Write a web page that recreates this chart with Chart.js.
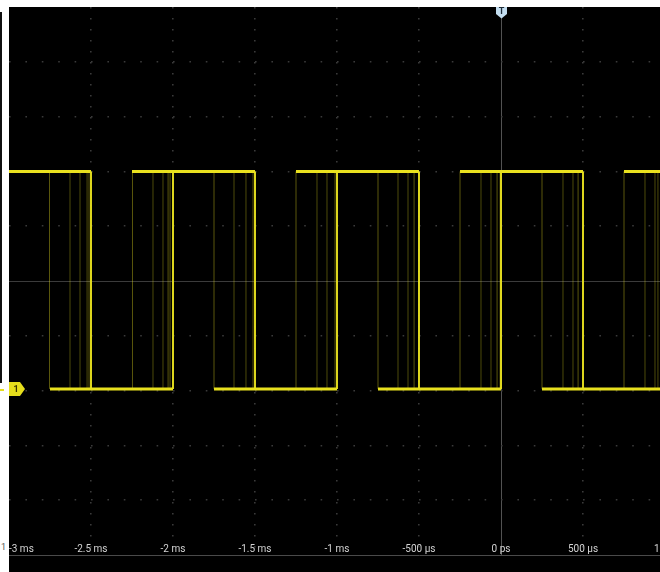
<!DOCTYPE html>
<html>
<head>
<meta charset="utf-8">
<title>Osciloscopio</title>
<script src="https://cdn.jsdelivr.net/npm/chart.js@4.4.1/dist/chart.umd.min.js"></script>
<style>
    html, body { margin: 0; padding: 0; background: #ffffff; overflow: hidden; width: 660px; height: 572px; }
    #pantalla { position: absolute; left: 9px; top: 7px; background: #000000; }
    #barra { position: absolute; left: 0; top: 12px; width: 2px; height: 371px; background: #111111; }
    #pico { position: absolute; left: 0; top: 389px; width: 4px; height: 2px; background: #e6de1c; }
    #resto { position: absolute; left: 1px; top: 542px; font: 9px Roboto, sans-serif; color: #555555; }
</style>
</head>
<body>
<div id="barra"></div>
<div id="pico"></div>
<div id="resto">1</div>
<canvas id="pantalla" width="820" height="565"></canvas>
<script>
// Eje de tiempos (en microsegundos) y sus etiquetas
var marcasTiempo = [-3000, -2500, -2000, -1500, -1000, -500, 0, 500, 1000, 1500, 2000];
var etiquetasTiempo = ["-3 ms", "-2.5 ms", "-2 ms", "-1.5 ms", "-1 ms", "-500 µs", "0 ps", "500 µs", "1 ms", "1.5 ms", "2 ms"];

// Niveles de la señal (en divisiones verticales)
var nivelAlto = 2.0;
var nivelBajo = -1.97;
var tiempoDisparo = 0;

// Tramos en nivel alto y en nivel bajo (us)
var inicioAlto = [-3000, -2250, -1250, -250, 750];
var finAlto = [-2500, -1500, -500, 500, 1500];
var inicioBajo = [-2750, -1750, -750, 250, 1250];
var finBajo = [-2000, -1000, 0, 1000, 2000];

// Flancos acumulados por la persistencia y cuántas veces aparecen
var flancos = [
    -2753, -2628, -2567, -2524, -2512, -2500,
    -2247, -2122, -2061, -2030, -2018, -2000,
    -1750, -1628, -1555, -1512, -1500,
    -1250, -1122, -1061, -1012, -1000,
    -750, -628, -567, -530, -500,
    -250, -122, -61, -24, -6, 0,
    250, 378, 439, 470, 500,
    750, 878, 939, 957, 1000
];
var impactos = [
    3, 2, 2, 2, 3, 12,
    3, 2, 2, 3, 3, 12,
    3, 2, 2, 3, 12,
    3, 2, 2, 3, 12,
    3, 2, 2, 3, 12,
    3, 2, 2, 3, 3, 12,
    3, 2, 2, 3, 12,
    3, 2, 2, 2, 12
];

var amarillo = "#e9e11f";

/**
 * Construye los puntos de los tramos horizontales, separados por huecos
 */
function tramos(inicios, finales, nivel) {
    var puntos = [];
    for (var i = 0; i < inicios.length; i++) {
        puntos.push({ x: inicios[i], y: nivel });
        puntos.push({ x: finales[i], y: nivel });
        puntos.push({ x: finales[i], y: null });
    }
    return puntos;
}

/**
 * Construye los flancos verticales entre el nivel bajo y el alto
 */
function lineasFlancos() {
    var puntos = [];
    for (var i = 0; i < flancos.length; i++) {
        puntos.push({ x: flancos[i], y: nivelBajo });
        puntos.push({ x: flancos[i], y: nivelAlto });
        puntos.push({ x: flancos[i], y: null });
    }
    return puntos;
}

// Marcadores de disparo (T) y de canal (1)
var marcadores = {
    id: "marcadores",
    afterDraw: function (chart) {
        var ctx = chart.ctx;
        var area = chart.chartArea;
        var tx = Math.round(chart.scales.x.getPixelForValue(tiempoDisparo)) + 0.5;
        var cy = Math.round(chart.scales.y.getPixelForValue(nivelBajo));

        ctx.save();
        ctx.fillStyle = "#c4def0";
        ctx.beginPath();
        ctx.moveTo(tx - 5.5, area.top);
        ctx.lineTo(tx + 5.5, area.top);
        ctx.lineTo(tx + 5.5, area.top + 7);
        ctx.lineTo(tx, area.top + 11.5);
        ctx.lineTo(tx - 5.5, area.top + 7);
        ctx.closePath();
        ctx.fill();
        ctx.fillStyle = "#1d2b38";
        ctx.font = "bold 9px Roboto, sans-serif";
        ctx.textAlign = "center";
        ctx.textBaseline = "middle";
        ctx.fillText("T", tx, area.top + 5);

        ctx.fillStyle = "#e6de1c";
        ctx.beginPath();
        ctx.moveTo(area.left, cy - 7);
        ctx.lineTo(area.left + 11, cy - 7);
        ctx.lineTo(area.left + 16, cy);
        ctx.lineTo(area.left + 11, cy + 7);
        ctx.lineTo(area.left, cy + 7);
        ctx.closePath();
        ctx.fill();
        ctx.fillStyle = "#3a3600";
        ctx.font = "bold 9px Roboto, sans-serif";
        ctx.fillText("1", area.left + 7, cy + 0.5);
        ctx.restore();
    }
};

function cargaOsciloscopio() {
    var datos = {
        datasets: [{
            label: "Flancos",
            data: lineasFlancos(),
            borderColor: amarillo,
            borderWidth: 1,
            pointRadius: 0,
            spanGaps: false,
            segment: {
                borderColor: function (c) {
                    var n = impactos[Math.floor(c.p0DataIndex / 3)];
                    var a = 0.2 + 0.75 * n / 12;
                    return "rgba(233, 225, 31, " + a.toFixed(2) + ")";
                },
                borderWidth: function (c) {
                    return impactos[Math.floor(c.p0DataIndex / 3)] >= 10 ? 2 : 1;
                }
            }
        }, {
            label: "Alto",
            data: tramos(inicioAlto, finAlto, nivelAlto),
            borderColor: amarillo,
            borderWidth: 3,
            pointRadius: 0,
            spanGaps: false
        }, {
            label: "Bajo",
            data: tramos(inicioBajo, finBajo, nivelBajo),
            borderColor: amarillo,
            borderWidth: 3,
            pointRadius: 0,
            spanGaps: false
        }]
    };

    var config = {
        type: "line",
        data: datos,
        plugins: [marcadores],
        options: {
            responsive: false,
            animation: false,
            devicePixelRatio: 1,
            events: [],
            layout: { padding: 0, autoPadding: false },
            plugins: {
                legend: { display: false },
                tooltip: { enabled: false }
            },
            scales: {
                x: {
                    type: "linear",
                    min: -3000,
                    max: 2000,
                    afterBuildTicks: function (scale) {
                        scale.ticks = marcasTiempo.map(function (v) { return { value: v }; });
                    },
                    afterFit: function (scale) {
                        scale.height = 17;
                    },
                    ticks: {
                        autoSkip: false,
                        maxRotation: 0,
                        align: "inner",
                        mirror: true,
                        padding: 0,
                        color: "#d4d4d4",
                        font: { family: "Roboto", size: 10 },
                        callback: function (valor, i) {
                            return etiquetasTiempo[i];
                        }
                    },
                    grid: {
                        drawTicks: false,
                        lineWidth: function (c) {
                            return c.tick && c.tick.value === tiempoDisparo ? 1 : 1.6;
                        },
                        color: function (c) {
                            if (!c.tick) return "#3c3c3c";
                            if (c.tick.value === tiempoDisparo) return "rgba(150, 150, 150, 0.55)";
                            if (c.tick.value === -3000) return "rgba(0, 0, 0, 0)";
                            return "#3a3a3a";
                        }
                    },
                    border: {
                        display: true,
                        color: "#4a4a4a",
                        width: 1,
                        dash: function (c) {
                            return c.tick && c.tick.value !== tiempoDisparo ? [1.6, 9.4] : [];
                        }
                    }
                },
                y: {
                    min: -5,
                    max: 5,
                    afterFit: function (scale) {
                        scale.width = 0;
                    },
                    ticks: { display: false, stepSize: 1 },
                    grid: {
                        drawTicks: false,
                        lineWidth: function (c) {
                            return c.tick && c.tick.value === 0 ? 1 : 1.6;
                        },
                        color: function (c) {
                            if (!c.tick) return "#3a3a3a";
                            if (c.tick.value === 5 || c.tick.value === -5) return "rgba(0, 0, 0, 0)";
                            if (c.tick.value === 0) return "rgba(130, 130, 130, 0.45)";
                            return "#3a3a3a";
                        }
                    },
                    border: {
                        display: false,
                        dash: function (c) {
                            return c.tick && c.tick.value !== 0 ? [1.6, 14.8] : [];
                        }
                    }
                }
            }
        }
    };

    var grafico = document.getElementById("pantalla").getContext("2d");
    new Chart(grafico, config);
}

cargaOsciloscopio();
</script>
</body>
</html>
